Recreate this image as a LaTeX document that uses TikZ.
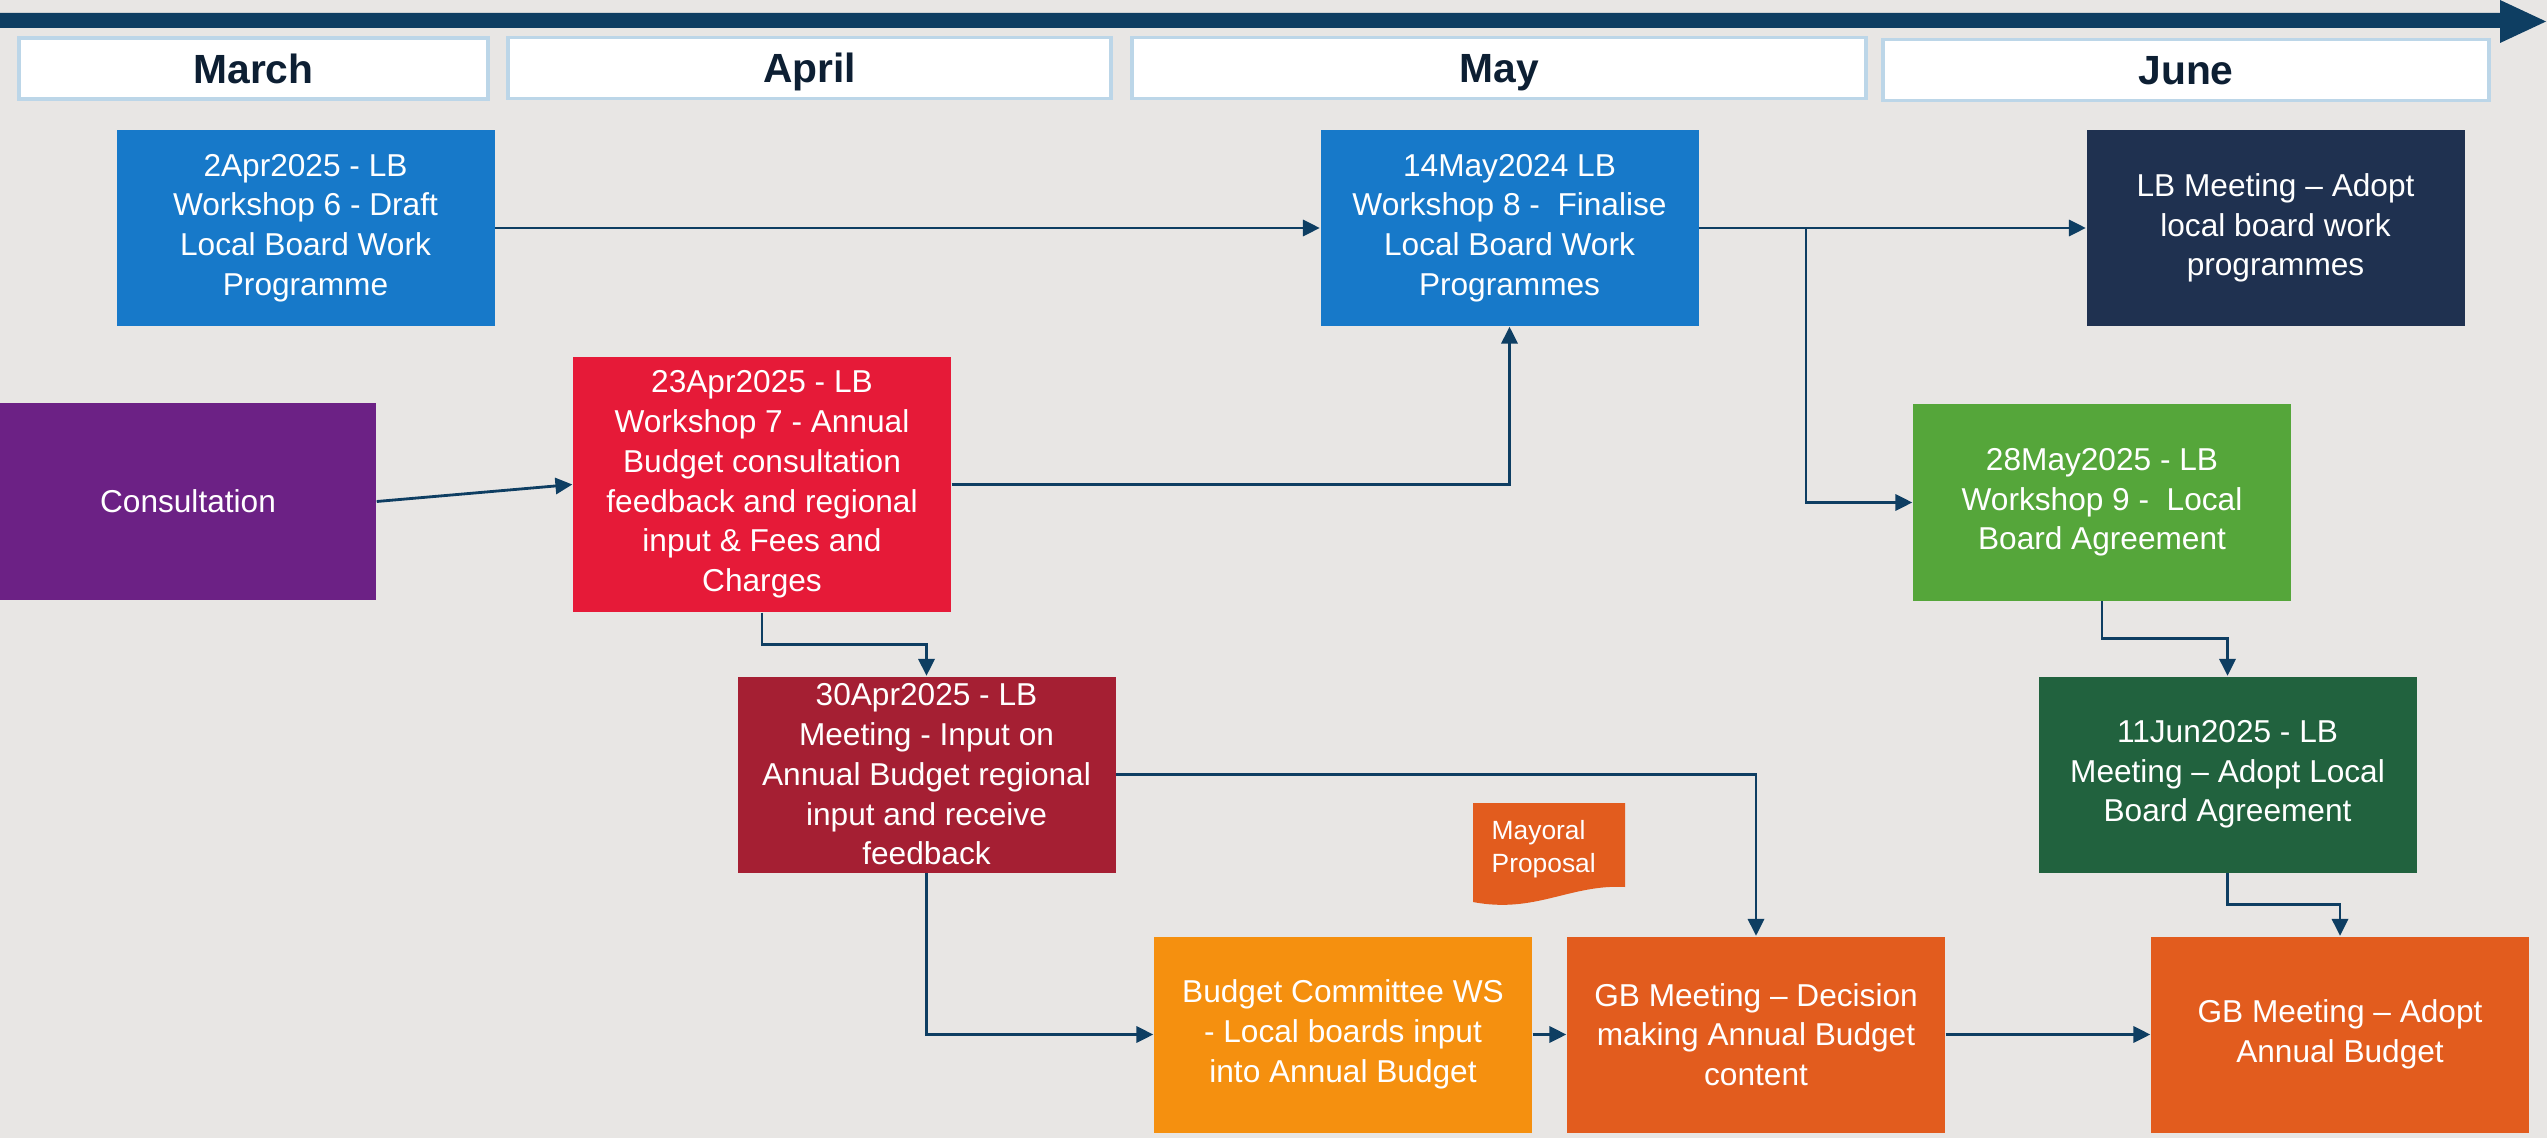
\documentclass[tikz,border=0pt]{standalone}
\usepackage{fontspec}
\setmainfont{Liberation Sans}
\usepackage{tikz}
\usetikzlibrary{arrows.meta, positioning, calc}
\usepackage{xcolor}

\definecolor{bgGrey}{HTML}{E8E6E4}
\definecolor{navy}{HTML}{0E3E62}
\definecolor{monthEdge}{HTML}{BCD6E8}
\definecolor{monthInk}{HTML}{0D1F33}
\definecolor{lbBlue}{HTML}{1779C9}
\definecolor{lbNavy}{HTML}{1F3150}
\definecolor{consPurple}{HTML}{6C2185}
\definecolor{wsRed}{HTML}{E61A38}
\definecolor{mtgRed}{HTML}{A51F33}
\definecolor{wsGreen}{HTML}{55A63A}
\definecolor{mtgGreen}{HTML}{21623E}
\definecolor{bcOrange}{HTML}{F5900F}
\definecolor{gbOrange}{HTML}{E25C1E}

\tikzset{
	card/.style = {inner sep = 0pt, minimum width = 3.78cm, minimum height = 1.96cm, align = center, text = white, font = \fontsize{9}{11.3}\selectfont},
	month/.style = {inner sep = 0pt, draw = monthEdge, line width = 1pt, fill = white, minimum height = 0.61cm, text height = 8.3pt, text depth = 0pt, text = monthInk, font = \fontsize{11.6}{13}\selectfont\bfseries},
	flow/.style = {draw = navy, line width = 0.8pt, -{Triangle[length = 4.8pt, width = 4.6pt]}}
}

\begin{document}
\begin{tikzpicture}
	\fill[bgGrey] (0cm, 0cm) rectangle (25.47cm, -11.38cm);
	\useasboundingbox (0cm, 0cm) rectangle (25.47cm, -11.38cm);
	\fill[navy] (0cm, -0.13cm) -- (25.0cm, -0.13cm) -- (25.0cm, 0cm) -- (25.46cm, -0.215cm) -- (25.0cm, -0.43cm) -- (25.0cm, -0.28cm) -- (0cm, -0.28cm) -- cycle;

	\draw (2.535cm, -0.685cm) node[month, minimum width = 4.69cm] (mar) {March}
	(8.095cm, -0.68cm) node[month, minimum width = 6.03cm] (apr) {April}
	(14.99cm, -0.68cm) node[month, minimum width = 7.34cm] (may) {May}
	(21.86cm, -0.70cm) node[month, minimum width = 6.06cm] (jun) {June};

	\draw (3.055cm, -2.28cm) node[card, fill = lbBlue] (apr2) {2Apr2025 - LB\\Workshop 6 - Draft\\Local Board Work\\Programme}
	(15.095cm, -2.28cm) node[card, fill = lbBlue] (may14) {14May2024 LB\\Workshop 8 -\ \ Finalise\\Local Board Work\\Programmes}
	(22.755cm, -2.28cm) node[card, fill = lbNavy] (lbadopt) {LB Meeting – Adopt\\local board work\\programmes}
	(1.88cm, -5.015cm) node[card, minimum width = 3.76cm, fill = consPurple] (cons) {Consultation}
	(7.62cm, -4.845cm) node[card, minimum height = 2.55cm, fill = wsRed] (apr23) {23Apr2025 - LB\\Workshop 7 - Annual\\Budget consultation\\feedback and regional\\input \& Fees and\\Charges}
	(21.02cm, -5.025cm) node[card, fill = wsGreen] (may28) {28May2025 - LB\\Workshop 9 -\ \ Local\\Board Agreement}
	(9.265cm, -7.745cm) node[card, fill = mtgRed] (apr30) {30Apr2025 - LB\\Meeting - Input on\\Annual Budget regional\\input and receive\\feedback}
	(22.275cm, -7.745cm) node[card, fill = mtgGreen] (jun11) {11Jun2025 - LB\\Meeting – Adopt Local\\Board Agreement}
	(13.43cm, -10.345cm) node[card, fill = bcOrange] (budcom) {Budget Committee WS\\- Local boards input\\into Annual Budget}
	(17.56cm, -10.345cm) node[card, fill = gbOrange] (gbdec) {GB Meeting – Decision\\making Annual Budget\\content}
	(23.40cm, -10.345cm) node[card, fill = gbOrange] (gbadopt) {GB Meeting – Adopt\\Annual Budget};

	\fill[gbOrange] (14.73cm, -8.03cm) -- (16.25cm, -8.03cm) -- (16.25cm, -8.87cm) .. controls (15.7cm, -8.84cm) and (15.35cm, -9.14cm) .. (14.73cm, -9.02cm) -- cycle;
	\node[anchor = north west, align = left, inner sep = 0pt, text = white, font = \fontsize{7.5}{9.3}\selectfont] (mayoral) at (14.91cm, -8.20cm) {Mayoral\\Proposal};

	\coordinate (fork) at (18.06cm, -2.28cm);

	\draw[flow] (apr2) -- (may14);
	\draw[flow] (cons.east) -- (apr23.west);
	\draw[flow] (apr23.east) -| (may14.south);
	\draw[flow] (apr23.south) |- ($(apr23.south)!0.5!(apr30.north)$) -| (apr30.north);
	\draw[flow] (may14) -- (lbadopt);
	\draw[flow] (fork) |- (may28.west);
	\draw[flow] (may28.south) |- ($(may28.south)!0.5!(jun11.north)$) -| (jun11.north);
	\draw[flow] (apr30.east) -| (gbdec.north);
	\draw[flow] (apr30.south) |- (budcom.west);
	\draw[flow] (budcom) -- (gbdec);
	\draw[flow] (gbdec) -- (gbadopt);
	\draw[flow] (jun11.south) |- ($(jun11.south)!0.5!(gbadopt.north)$) -| (gbadopt.north);
\end{tikzpicture}
\end{document}
